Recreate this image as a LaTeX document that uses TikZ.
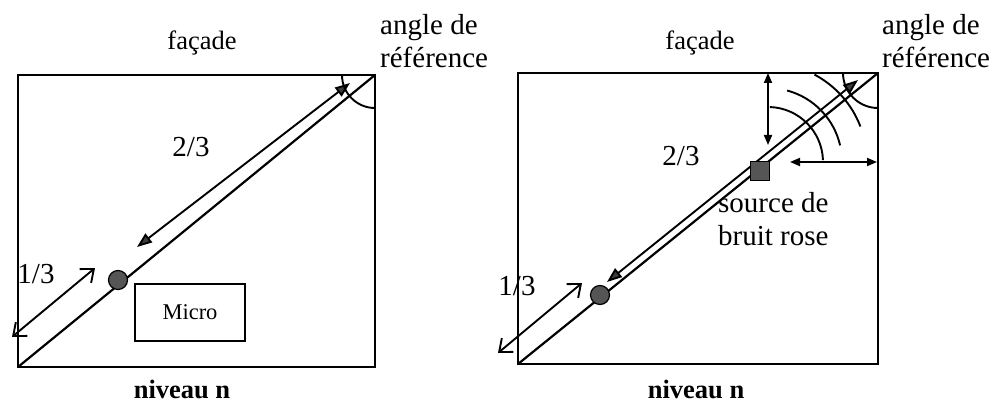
\documentclass[tikz,border=0pt]{standalone}
\usepackage{fontspec}
\setmainfont{Liberation Serif}
\usetikzlibrary{arrows.meta}
\definecolor{tipgray}{HTML}{3C3C3C}
\definecolor{dotgray}{HTML}{555555}
\begin{document}
\begin{tikzpicture}[x=1pt,y=1pt,
  frame/.style={draw=black, line width=2.2pt},
  diag/.style={line width=2.2pt},
  thin line/.style={line width=1.9pt},
  filledboth/.style={line width=1.9pt,
    {Triangle[length=15pt,width=11pt,fill=tipgray]}-{Triangle[length=15pt,width=11pt,fill=tipgray]}},
  smallfilled/.style={line width=1.9pt,
    {Triangle[length=10pt,width=8pt,fill=black]}-{Triangle[length=10pt,width=8pt,fill=black]}},
  openboth/.style={line width=1.9pt,
    {Straight Barb[length=11pt,width=18pt,line width=1.9pt]}-{Straight Barb[length=11pt,width=18pt,line width=1.9pt]}},
  dotnode/.style={circle, draw=black, line width=1.2pt, fill=dotgray, minimum size=19pt, inner sep=0pt},
  srcnode/.style={rectangle, draw=black, line width=1.2pt, fill=dotgray, minimum size=19pt, inner sep=0pt},
  lab/.style={font=\fontsize{29}{32}\selectfont, inner sep=0pt},
  titlelab/.style={font=\fontsize{26.5}{30}\selectfont, inner sep=0pt},
  levellab/.style={font=\fontsize{26.5}{30}\selectfont\bfseries, inner sep=0pt},
  microbox/.style={draw=black, line width=1.5pt, minimum width=110pt, minimum height=57pt,
    font=\fontsize{22.5}{25}\selectfont}
]
\useasboundingbox (0,0) rectangle (998,405);

% ---------------- left panel ----------------
\coordinate (Abl) at (18,38);
\coordinate (Atr) at (375,330);
\draw[frame] (Abl) rectangle (Atr);
\draw[diag] (Abl) -- (Atr);
\coordinate (Aup) at (350,322);
\coordinate (Alow) at (137,158);
\draw[filledboth] (Aup) -- (Alow);
\coordinate (Aone) at (95,137);
\coordinate (Aonelow) at (12,68);
\draw[openboth] (Aone) -- (Aonelow);
\node[dotnode] (Amic) at (118,125) {};
\node[microbox] (Amicro) at (190,92.5) {Micro};
\draw[thin line] ([xshift=-33pt]Atr) arc[start angle=180,end angle=270,radius=33pt];

\node[lab, anchor=base] (A23) at (191,248) {2/3};
\node[lab, anchor=base] (A13) at (36,122) {1/3};
\node[titlelab, anchor=base] (Afacade) at (202,355) {façade};
\node[lab, anchor=base west] (Aangle) at (380,370) {angle de};
\node[lab, anchor=base west] (Aref) at (380,337) {référence};
\node[levellab, anchor=base] (Aniv) at (182,7) {niveau n};

% ---------------- right panel ----------------
\coordinate (Bbl) at (518,41);
\coordinate (Btr) at (878,332);
\draw[frame] (Bbl) rectangle (Btr);
\draw[diag] (Bbl) -- (Btr);
\coordinate (Bup) at (858,325);
\coordinate (Blow) at (607,123);
\draw[filledboth] (Bup) -- (Blow);
\coordinate (Bone) at (582,122);
\coordinate (Bonelow) at (498,52);
\draw[openboth] (Bone) -- (Bonelow);
\node[dotnode] (Bmic) at (600,110) {};
\node[srcnode] (Bsrc) at (760,234) {};
\coordinate (Bc) at (768,243);
% distances to the walls
\coordinate (Bvtop) at (768,332);
\coordinate (Bvbot) at (768,260);
\draw[smallfilled] (Bvtop) -- (Bvbot);
\coordinate (Bhl) at (790,243);
\coordinate (Bhr) at (877,243);
\draw[smallfilled] (Bhl) -- (Bhr);
% sound waves
\draw[thin line] ([shift={(2:55pt)}]Bc) arc[start angle=2,end angle=88,radius=55pt];
\draw[thin line] ([shift={(13:74pt)}]Bc) arc[start angle=13,end angle=75,radius=74pt];
\draw[thin line] ([shift={(21:99pt)}]Bc) arc[start angle=21,end angle=62,radius=99pt];
% reference angle
\draw[thin line] ([xshift=-35pt]Btr) arc[start angle=180,end angle=270,radius=35pt];

\node[lab, anchor=base] (B23) at (681,240) {2/3};
\node[lab, anchor=base] (B13) at (517,110) {1/3};
\node[lab, anchor=base west] (Bsrc1) at (718,193) {source de};
\node[lab, anchor=base west] (Bsrc2) at (718,160) {bruit rose};
\node[titlelab, anchor=base] (Bfacade) at (700,355) {façade};
\node[lab, anchor=base west] (Bangle) at (882,370) {angle de};
\node[lab, anchor=base west] (Bref) at (882,337) {référence};
\node[levellab, anchor=base] (Bniv) at (696,7) {niveau n};
\end{tikzpicture}
\end{document}
